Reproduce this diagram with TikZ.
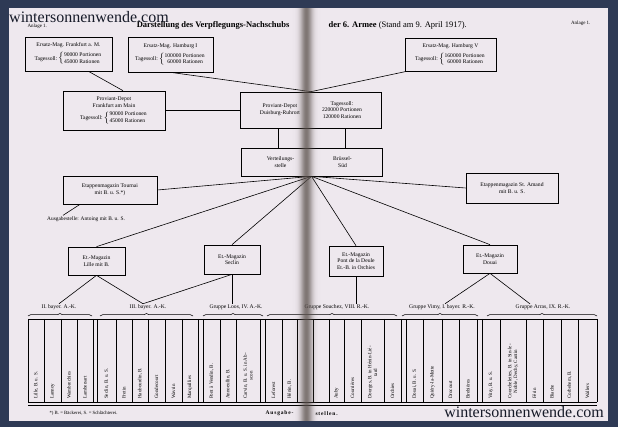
\documentclass[tikz,border=0pt]{standalone}
\usepackage{fontspec}
\setmainfont{Liberation Serif}
\usetikzlibrary{decorations.pathreplacing}

\definecolor{einband}{HTML}{2E3A55}
\definecolor{papier}{HTML}{EEE8EE}
\definecolor{falz}{HTML}{5A504C}
\definecolor{zeichen}{HTML}{161A28}

\newcommand{\soll}[2]{Tagessoll:\,$\left\{\begin{tabular}{@{}r@{\ }l@{}}#1 & Portionen\\ #2 & Rationen\end{tabular}\right.$}

\begin{document}
\begin{tikzpicture}[x=1pt,y=-1pt,
    box/.style={shape=rectangle,draw=black,line width=0.7pt,fill=papier,align=center,inner sep=1pt,font=\fontsize{5.6}{6.6}\selectfont},
    link/.style={line width=0.6pt},
    grp/.style={inner sep=0.5pt,font=\fontsize{5.6}{6.2}\selectfont},
    ort/.style={rotate=90,anchor=west,align=center,inner sep=0pt,font=\fontsize{5}{5.6}\selectfont},
    klammer/.style={decorate,decoration={brace,amplitude=2.5pt},line width=0.5pt},
    wmark/.style={text=zeichen,inner sep=0pt,font=\fontsize{16}{18}\selectfont}]

  \useasboundingbox (0,0) rectangle (618,427);
  \fill[einband] (0,0) rectangle (618,427);
  \fill[papier] (9,8) rectangle (608,421);

  % Kopf
  \node[font=\fontsize{5}{6}\selectfont,anchor=west] (anlL) at (24,26) {Anlage 1.};
  \node[font=\fontsize{5}{6}\selectfont,anchor=east] (anlR) at (594,23) {Anlage 1.};
  \node[font=\fontsize{8.5}{10}\selectfont\bfseries,anchor=east] (titelL) at (293,25) {Darstellung des Verpflegungs-Nachschubs};
  \node[font=\fontsize{8.5}{10}\selectfont,anchor=west] (titelR) at (325,25) {\textbf{der 6. Armee} (Stand am 9. April 1917).};

  % Ersatz-Magazine und Depots
  \node[box,minimum width=87pt,minimum height=34pt] (frankEM) at (68.5,54) {Ersatz-Mag. Frankfurt a. M.\\[3pt]\soll{90000}{45000}};
  \node[box,minimum width=85pt,minimum height=35pt] (hambI) at (170.5,54.5) {Ersatz-Mag. Hamburg I\\[3pt]\soll{100000}{60000}};
  \node[box,minimum width=91pt,minimum height=33pt] (hambV) at (450.5,54.5) {Ersatz-Mag. Hamburg V\\[3pt]\soll{160000}{60000}};
  \node[box,minimum width=102pt,minimum height=39pt] (provF) at (114,110.5) {Proviant-Depot\\Frankfurt am Main\\[3pt]\soll{90000}{45000}};
  \node[box,minimum width=141pt,minimum height=36pt] (provD) at (311,110)
    {\begin{minipage}{58pt}\centering Proviant-Depot\\Duisburg-Ruhrort\end{minipage}\hspace{4pt}%
     \begin{minipage}{58pt}\centering Tagessoll:\\220000 Portionen\\120000 Rationen\end{minipage}};
  \node[box,minimum width=141pt,minimum height=28pt] (vert) at (311.5,162)
    {\begin{minipage}{58pt}\centering Verteilungs-\\stelle\end{minipage}\hspace{4pt}%
     \begin{minipage}{58pt}\centering Brüssel-\\Süd\end{minipage}};

  % Etappenmagazine
  \node[box,minimum width=94pt,minimum height=28pt] (tournai) at (110,190) {Etappenmagazin Tournai\\mit B. u. S.*)};
  \node[box,minimum width=92pt,minimum height=30pt] (amand) at (512,188) {Etappenmagazin St. Amand\\mit B. u. S.};
  \node[font=\fontsize{5.4}{6}\selectfont,inner sep=1pt] (ausg) at (86,219) {Ausgabestelle: Antoing mit B. u. S.};
  \node[box,minimum width=57pt,minimum height=28pt] (lille) at (96.5,261) {Et.-Magazin\\Lille mit B.};
  \node[box,minimum width=56pt,minimum height=29pt] (seclin) at (232,259.5) {Et.-Magazin\\Seclin};
  \node[box,minimum width=54pt,minimum height=30pt] (pont) at (356,261) {Et.-Magazin\\Pont de la Deule\\Et.-B. in Orchies};
  \node[box,minimum width=54pt,minimum height=28pt] (douai) at (490,259) {Et.-Magazin\\Douai};

  % Gruppen
  \node[grp] (lblII) at (59,307) {II. bayer. A.-K.};
  \node[grp] (lblIII) at (148,307) {III. bayer. A.-K.};
  \node[grp] (lblLoos) at (236,307) {Gruppe Loos, IV. A.-K.};
  \node[grp] (lblSouchez) at (337,307) {Gruppe Souchez, VIII. R.-K.};
  \node[grp] (lblVimy) at (442,307) {Gruppe Vimy, I. bayer. R.-K.};
  \node[grp] (lblArras) at (543,307) {Gruppe Arras, IX. R.-K.};

  % Verbindungen
  \path [link] ([xshift=20pt]frankEM.south) edge ([xshift=9pt]provF.north);
  \path [link] (hambI.south) edge (provD.north);
  \path [link] ([xshift=2pt]hambV.south west) edge (provD.north);
  \path [link] (provF.east) edge (provF.east -| provD.west);
  \path [link] ([xshift=-33pt]provD.south) edge ([xshift=-33pt]provD.south |- vert.north);
  \path [link] ([xshift=34pt]provD.south) edge ([xshift=34pt]provD.south |- vert.north);
  \path [link] (vert.south) edge (tournai.east) edge (lille.north) edge (seclin.north)
                            edge (pont.north) edge (douai.north) edge (amand.west);
  \path [link] ([xshift=-30pt]tournai.south) edge ([xshift=-23pt]ausg.north);
  \path [link] (lille.south) edge (lblII.north) edge ([xshift=-5pt]lblIII.north);
  \path [link] (seclin.south) edge ([xshift=-5pt]lblIII.north) edge (seclin.south |- lblLoos.north);
  \path [link] (pont.south) edge (pont.south |- lblSouchez.north);
  \path [link] (douai.south) edge ([xshift=3pt]lblVimy.north) edge ([xshift=-13pt]lblArras.north);

  % Klammern
  \foreach \a/\b in {28/92,100/193,203/263,267/397,402/478,487/597}
    \draw[klammer] (\a,316) -- (\b,316);

  % Tabelle der Ausgabestellen
  \draw[line width=0.6pt] (28,319) -- (597,319);
  \draw[line width=0.6pt] (28,402) -- (597,402);
  \draw[line width=1.1pt] (28,405.5) -- (597,405.5);
  \foreach \x in {28,44,61,77,93,97,116,132,148,165,182,198,203,220,236,260,265,282,297,313,
                  329,344,361,384,401,406,423,442,459,477,482,500,526,543,561,578,597}
    \draw[line width=0.6pt] (\x,319) -- (\x,402);
  \foreach \x/\t in {36/{Lille, B. u. S.},52.5/{Lannoy},69/{Wambrechies},85/{Lambersart},
      106.5/{Seclin, B. u. S.},124/{Fretin},140/{Haubourdin, B.},156.5/{Gondecourt},
      173.5/{Wavrin},190/{Marquillies},211.5/{Pont à Vendin, B.},228/{Annoeullin, B.},
      248/{Carvin, B. u. S. in Ab-\\scon},273.5/{Leforest},289.5/{Hénin, B.},
      336.5/{Auby},352.5/{Courrières},372.5/{Dourges, B. in Hénin-Lié-\\tard},392.5/{Orchies},
      414.5/{Douai, B. u. S.},432.5/{Quiéry-la-Motte},450.5/{Drocourt},468/{Brebières},
      491/{Vitry, B. u. S.},513/{Courchelettes, B. in Sin-le-\\Noble, Dechy, Cantin},
      534.5/{Férin},552/{Biache},569.5/{Corbehem, B.},587.5/{Wallers}}
    \node[ort] (ort-\x) at (\x,399) {\t};

  % Fuss
  \node[font=\fontsize{4.8}{6}\selectfont,anchor=west] (fussnote) at (46,413) {*) B. = Bäckerei, S. = Schlächterei.};
  \node[font=\fontsize{5.5}{6}\selectfont\bfseries,anchor=east] (ausgL) at (297,413) {\addfontfeature{LetterSpace=15}Ausgabe-};
  \node[font=\fontsize{5.5}{6}\selectfont\bfseries,anchor=west] (ausgR) at (312,414) {\addfontfeature{LetterSpace=15}stellen.};

  % Falz
  \foreach \i in {0,...,31} {
    \pgfmathsetmacro\op{0.75*exp(-((\i-15)/6)^2)}
    \fill[falz,opacity=\op] (291+\i,8) rectangle (292+\i,421);
  }

  % Wasserzeichen
  \node[wmark,anchor=west] (wmOben) at (9,17) {wintersonnenwende.com};
  \node[wmark,anchor=east] (wmUnten) at (604,412) {wintersonnenwende.com};
\end{tikzpicture}
\end{document}
